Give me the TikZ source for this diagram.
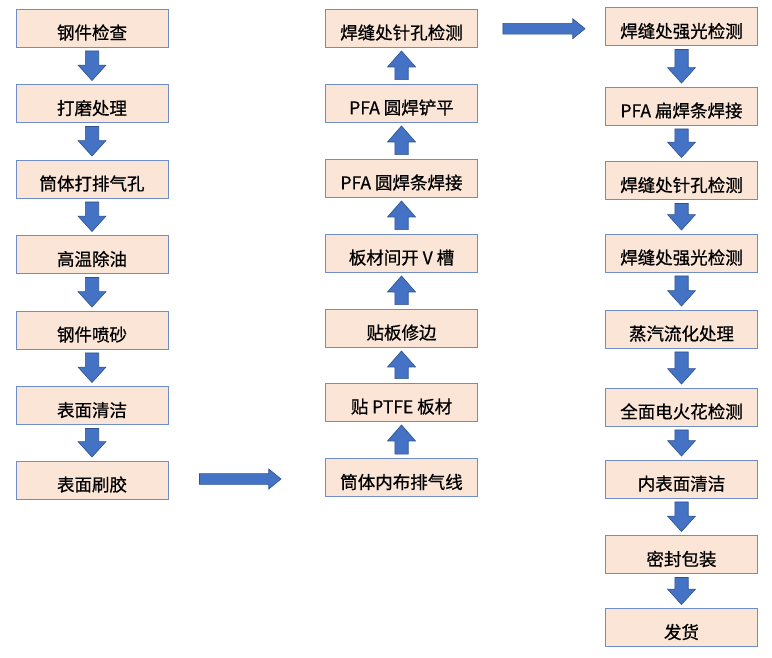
\documentclass[tikz,border=0pt]{standalone}
\usepackage{fontspec}
\newfontfamily\cjk[FakeBold=0.7]{Noto Sans CJK SC}
\usetikzlibrary{calc}
\definecolor{boxfill}{HTML}{FBE5D6}
\definecolor{boxline}{HTML}{6F8DC8}
\definecolor{arrfill}{HTML}{4472C4}
\definecolor{arrline}{HTML}{2F528F}

% block arrows: #1 = start node, #2 = end node
\newcommand{\flowdown}[2]{%
  \draw[arr] ($(#1.south)+(-6.7,3.5)$) -- ($(#2.north)+(-6.7,-19)$) -- ++(-7.3,0)
    -- ($(#2.north)+(0,-3.5)$) -- ++(14,-15.5) -- ++(-7.3,0) -- ($(#1.south)+(6.7,3.5)$) -- cycle;}
\newcommand{\flowup}[2]{%
  \draw[arr] ($(#1.north)+(-6.7,-4)$) -- ($(#2.south)+(-6.7,19.5)$) -- ++(-7.3,0)
    -- ($(#2.south)+(0,3.5)$) -- ++(14,16) -- ++(-7.3,0) -- ($(#1.north)+(6.7,-4)$) -- cycle;}
% #1 = start coordinate, #2 = tip coordinate (same height)
\newcommand{\flowright}[2]{%
  \draw[arr] ($(#1)+(0,-5.4)$) -- ($(#2)+(-12.3,-5.4)$) -- ++(0,-4.6)
    -- (#2) -- ++(-12.3,10) -- ++(0,-4.6) -- ($(#1)+(0,5.4)$) -- cycle;}

\begin{document}
\begin{tikzpicture}[x=1pt, y=-1pt,
    proc/.style = {draw=boxline, line width=0.9pt, fill=boxfill, minimum width=152pt, minimum height=38pt,
                   inner sep=0pt, text height=24pt, text depth=1.6pt, font=\cjk\fontsize{17.5}{20}\selectfont},
    arr/.style  = {fill=arrfill, draw=arrline, line width=0.6pt, line join=miter}]

    \useasboundingbox (0,0) rectangle (772,657);

    %% LEFT COLUMN
    \node[proc] (a1) at (92,28)    {钢件检查};
    \node[proc] (a2) at (92,103.5) {打磨处理};
    \node[proc] (a3) at (92,179)   {筒体打排气孔};
    \node[proc] (a4) at (92,254.5) {高温除油};
    \node[proc] (a5) at (92,330)   {钢件喷砂};
    \node[proc] (a6) at (92,405.5) {表面清洁};
    \node[proc] (a7) at (92,480)   {表面刷胶};
    \flowdown{a1}{a2}
    \flowdown{a2}{a3}
    \flowdown{a3}{a4}
    \flowdown{a4}{a5}
    \flowdown{a5}{a6}
    \flowdown{a6}{a7}

    %% MIDDLE COLUMN (bottom to top)
    \node[proc] (b1) at (401.5,477.5) {筒体内布排气线};
    \node[proc] (b2) at (401.5,402)   {贴 PTFE 板材};
    \node[proc] (b3) at (401.5,328)   {贴板修边};
    \node[proc] (b4) at (401.5,253)   {板材间开 V 槽};
    \node[proc] (b5) at (401.5,178)   {PFA 圆焊条焊接};
    \node[proc] (b6) at (401.5,103)   {PFA 圆焊铲平};
    \node[proc] (b7) at (401.5,28)    {焊缝处针孔检测};
    \flowup{b1}{b2}
    \flowup{b2}{b3}
    \flowup{b3}{b4}
    \flowup{b4}{b5}
    \flowup{b5}{b6}
    \flowup{b6}{b7}

    %% RIGHT COLUMN
    \node[proc] (c1) at (681.5,26.5)  {焊缝处强光检测};
    \node[proc] (c2) at (681.5,106)   {PFA 扁焊条焊接};
    \node[proc] (c3) at (681.5,180.5) {焊缝处针孔检测};
    \node[proc] (c4) at (681.5,253)   {焊缝处强光检测};
    \node[proc] (c5) at (681.5,329)   {蒸汽流化处理};
    \node[proc] (c6) at (681.5,407)   {全面电火花检测};
    \node[proc] (c7) at (681.5,479)   {内表面清洁};
    \node[proc] (c8) at (681.5,554.5) {密封包装};
    \node[proc] (c9) at (681.5,627.5) {发货};
    \flowdown{c1}{c2}
    \flowdown{c2}{c3}
    \flowdown{c3}{c4}
    \flowdown{c4}{c5}
    \flowdown{c5}{c6}
    \flowdown{c6}{c7}
    \flowdown{c7}{c8}
    \flowdown{c8}{c9}

    %% BETWEEN COLUMNS
    \coordinate (h1s) at ($(a7.east)+(31,-1)$);
    \coordinate (h1t) at ($(b1.west |- h1s)+(-44,0)$);
    \coordinate (h2s) at ($(b7.east)+(25,0.7)$);
    \coordinate (h2t) at ($(c1.west |- h2s)+(-20,0)$);
    \flowright{h1s}{h1t}
    \flowright{h2s}{h2t}
\end{tikzpicture}
\end{document}
